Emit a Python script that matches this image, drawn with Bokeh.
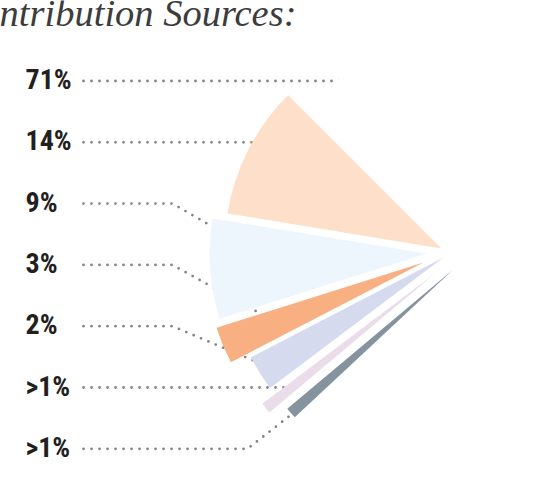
import math
from bokeh.plotting import figure
from bokeh.models import Range1d
from bokeh.core.properties import value
from bokeh.embed import file_html
from bokeh.resources import INLINE

# ---------------- data ----------------
title_text = "Contribution Sources:"
share_labels = ["71%", "14%", "9%", "3%", "2%", ">1%", ">1%"]
share_pct = [71, 14, 9, 3, 2, 1, 1]
# angular sweep of each drawn wedge (degrees) as drawn in the picture;
# the 71% slice is the (blank) remainder of the circle
wedge_sweep_deg = [35.7, 26.8, 9.9, 9.6, 3.0, 3.0]

# ---------------- styles / layout ----------------
colors = ["#FFFFFF", "#FDDFCA", "#EDF5FD", "#F8B083", "#D6DAEE", "#EBDCEA", "#84939E"]
W, H = 539, 480
first_start_deg = 135.0
radius = 217.0
center = (445.0, 256.0)                       # page px
explode = [(20, -1), (-4, -8), (-19, -3), (-22, 6), (-2, 1), (-9.9, 16.6), (8, 12.7)]
row0, row_step = 80.5, 61.3
label_x, leader_x0 = 25, 83
bends = [None, None, (172, 30), (172, 29), (172, 23), None, (247, -38)]


def Y(py):
    return H - py


sweeps = [360.0 - sum(wedge_sweep_deg)] + wedge_sweep_deg
starts = []
a = first_start_deg - sweeps[0]
for s in sweeps:
    starts.append(a)
    a += s
ends = [s + w for s, w in zip(starts, sweeps)]
tips = [(center[0] + dx, center[1] + dy) for dx, dy in explode]
rows = [row0 + i * row_step for i in range(len(share_labels))]


def inside(px, py, k):
    tx, ty = tips[k]
    dx, dy = px - tx, ty - py
    if math.hypot(dx, dy) > radius:
        return False
    ang = math.degrees(math.atan2(dy, dx))
    return (ang - starts[k]) % 360.0 <= sweeps[k]


def leader(k):
    y = rows[k]
    pts = [(leader_x0, y)]
    if bends[k] is None:
        direction = (1.0, 0.0)
    else:
        bx, ang = bends[k]
        pts.append((bx, y))
        direction = (math.cos(math.radians(ang)), math.sin(math.radians(ang)))
    px, py = pts[-1]
    step = 0.5
    for _ in range(2000):
        if inside(px, py, k):
            break
        px += direction[0] * step
        py += direction[1] * step
    px += direction[0] * 4
    py += direction[1] * 4
    pts.append((px, py))
    return [q[0] for q in pts], [Y(q[1]) for q in pts]


p = figure(width=W, height=H, x_range=Range1d(0, W), y_range=Range1d(0, H),
           output_backend="svg", toolbar_location=None, min_border=0,
           x_axis_location=None, y_axis_location=None)
p.grid.visible = False
p.outline_line_color = None
p.background_fill_color = "white"
p.border_fill_color = "white"

xs, ys = [], []
for k in range(len(share_labels)):
    lx, ly = leader(k)
    xs.append(lx)
    ys.append(ly)
p.multi_line(xs, ys, line_color="#858585", line_width=2.8, line_dash="0 8", line_cap="round")

p.wedge(x=[t[0] for t in tips], y=[Y(t[1]) for t in tips], radius=radius,
        start_angle=[math.radians(s) for s in starts], end_angle=[math.radians(e) for e in ends],
        fill_color=colors, line_color=None)

p.text(x=[label_x] * len(share_labels), y=[Y(r - 1.5) for r in rows], text=share_labels,
       text_font=value("Roboto Condensed, Roboto"), text_font_style="bold", text_font_size="28px",
       text_color="#231F20", text_align="left", text_baseline="middle")

p.text(x=[296], y=[Y(12)], text=[title_text], text_font=value("Liberation Serif"),
       text_font_style="italic", text_font_size="38.5px", text_color="#3C3C3C",
       text_align="right", text_baseline="middle")

open("out.html", "w").write(file_html(p, INLINE))
